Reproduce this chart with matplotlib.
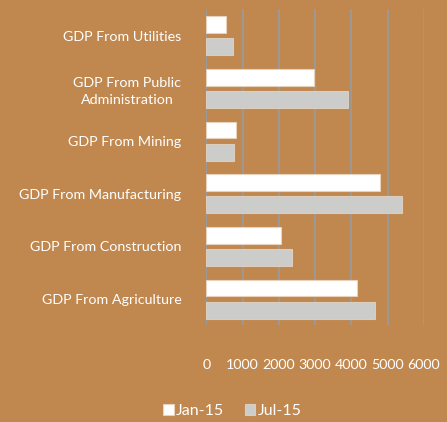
import matplotlib.pyplot as plt
import numpy as np

categories = ['GDP From Agriculture', 'GDP From Construction', 'GDP From Manufacturing',
              'GDP From Mining', 'GDP From Public\nAdministration', 'GDP From Utilities']
jan15 = [4150, 2070, 4790, 810, 2960, 550]
jul15 = [4640, 2370, 5400, 770, 3900, 740]
xticks = [0, 1000, 2000, 3000, 4000, 5000, 6000]

bg = '#C0874E'
plt.rcParams['font.family'] = ['Lato', 'DejaVu Sans']

fig = plt.figure(figsize=(4.47, 4.22), dpi=100, facecolor=bg)
ax = fig.add_axes([0.4615, 0.229, 0.487, 0.7485], facecolor=bg)

y = np.arange(len(categories))
h = 0.32
ax.barh(y + 0.21, jan15, h, color='white', edgecolor='#E8D2BC', linewidth=0.8, label='Jan-15', zorder=3)
ax.barh(y - 0.21, jul15, h, color='#CCCCCA', edgecolor='#DCCDBD', linewidth=0.8, label='Jul-15', zorder=3)

ax.set_xlim(0, 6000)
ax.set_ylim(-0.5, len(categories) - 0.5)
ax.set_xticks(xticks)
ax.set_xticklabels([str(v) for v in xticks])
ax.set_yticks(y)
ax.set_yticklabels(categories)
for t in ax.get_yticklabels():
    t.set_multialignment('center')
    t.set_linespacing(1.5)

ax.grid(axis='x', color='#9A9A9A', linewidth=1.3, zorder=0)
ax.set_axisbelow(True)
for s in ax.spines.values():
    s.set_visible(False)
ax.axvline(0, color='#9A9A9A', linewidth=1.3, zorder=1)

ax.tick_params(axis='y', length=0, pad=18, labelcolor='white', labelsize=10.3)
ax.tick_params(axis='x', length=0, pad=24, labelcolor='white', labelsize=10.3)

handles, labels = ax.get_legend_handles_labels()
leg = fig.legend(handles, labels, loc='lower center', bbox_to_anchor=(0.52, -0.025), ncol=2,
                 frameon=False, fontsize=11.5, handlelength=0.65, handleheight=0.65,
                 handletextpad=0.15, columnspacing=1.3, labelcolor='white')

fig.savefig('out.png', dpi=100, facecolor=bg)
